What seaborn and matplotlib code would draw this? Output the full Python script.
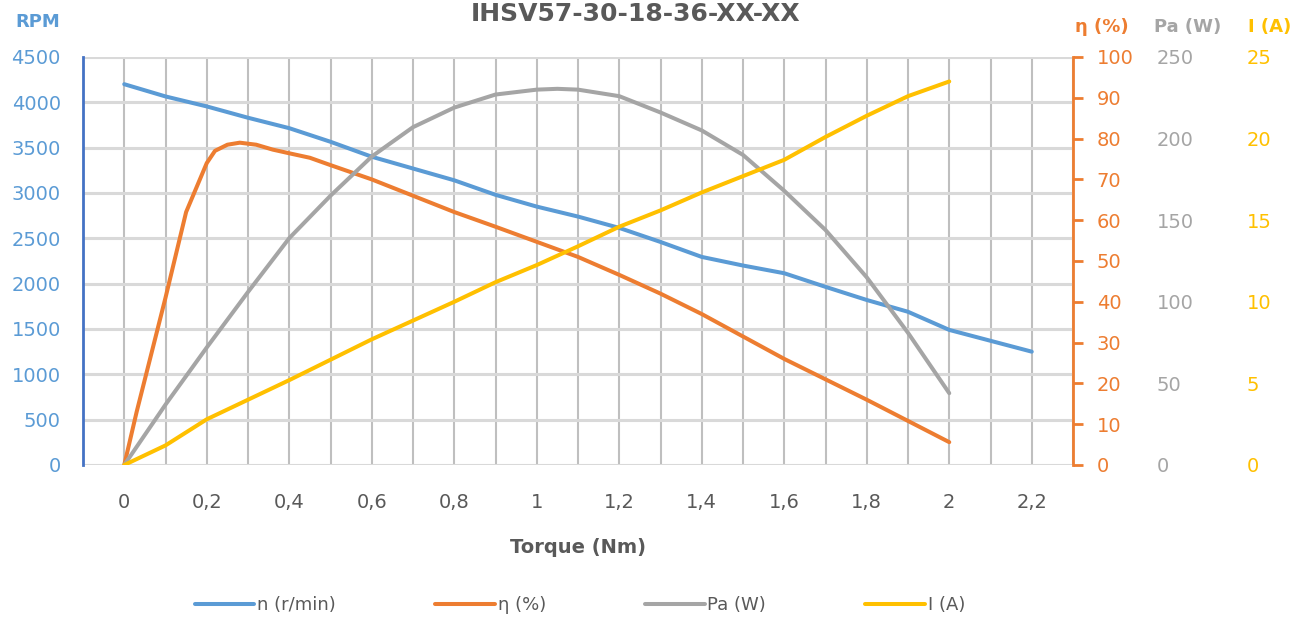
import numpy as np
import pandas as pd
import matplotlib
matplotlib.use('Agg')
import matplotlib.pyplot as plt
import seaborn as sns

# values
torque_n = [0, 0.1, 0.2, 0.3, 0.4, 0.5, 0.6, 0.7, 0.8, 0.9, 1.0, 1.1, 1.2, 1.3, 1.4, 1.5, 1.6, 1.7, 1.8, 1.9, 2.0, 2.1, 2.2]
speed = [4200, 4065, 3955, 3830, 3715, 3565, 3400, 3270, 3140, 2980, 2850, 2740, 2615, 2460, 2295, 2200, 2115, 1965, 1820, 1690, 1490, 1370, 1250]

torque_eta = [0, 0.03, 0.05, 0.1, 0.15, 0.2, 0.22, 0.25, 0.28, 0.32, 0.36, 0.4, 0.45, 0.5, 0.6, 0.7, 0.8, 0.9, 1.0, 1.1, 1.2, 1.3, 1.4, 1.6, 1.8, 2.0]
eta = [0, 13, 21, 41, 62, 74, 77, 78.5, 79, 78.5, 77.3, 76.4, 75.3, 73.5, 70, 66, 62, 58.4, 54.7, 51, 46.6, 42, 37, 26, 16, 5.6]

torque_pa = [0, 0.1, 0.2, 0.3, 0.4, 0.5, 0.6, 0.7, 0.8, 0.9, 1.0, 1.05, 1.1, 1.2, 1.3, 1.4, 1.5, 1.6, 1.7, 1.8, 1.9, 2.0]
power = [0, 37, 72, 106, 139, 165, 189, 207, 219, 227, 230, 230.5, 230, 226, 216, 205, 190, 168, 144, 115, 81, 44]

torque_i = [0, 0.1, 0.2, 0.4, 0.6, 0.8, 0.9, 1.0, 1.1, 1.2, 1.3, 1.4, 1.5, 1.6, 1.7, 1.8, 1.9, 2.0]
current = [0, 1.2, 2.8, 5.2, 7.7, 10.0, 11.2, 12.25, 13.4, 14.6, 15.6, 16.7, 17.7, 18.7, 20.1, 21.4, 22.6, 23.5]

x_labels = ['0', '0,2', '0,4', '0,6', '0,8', '1', '1,2', '1,4', '1,6', '1,8', '2', '2,2']

BLUE, ORANGE, GRAY, YELLOW = '#5B9BD5', '#ED7D31', '#A5A5A5', '#FFC000'
DARK = '#595959'
LW = 2.9

sns.set_style('white')
plt.rcParams['font.family'] = ['DejaVu Sans']

fig = plt.figure(figsize=(13.09, 6.19), dpi=100)
ax = fig.add_axes([83/1309, 1-465/619, (1073-83)/1309, (465-57)/619])

# grid: thin darker verticals every 0.1, wider light horizontals
for xv in np.arange(-0.1, 2.31, 0.1):
    ax.axvline(xv, color='#BFBFBF', lw=1.5, zorder=0)
for yv in range(0, 4501, 500):
    ax.axhline(yv, color='#D9D9D9', lw=2.2, zorder=0)

sns.lineplot(x=torque_n, y=speed, ax=ax, color=BLUE, lw=LW, label='n (r/min)', legend=False)
ax.set_xlim(-0.1, 2.3)
ax.set_ylim(0, 4500)
ax.set_xticks(np.arange(0, 2.21, 0.2))
ax.set_xticklabels(x_labels)
ax.set_yticks(range(0, 4501, 500))
ax.tick_params(axis='x', length=0, pad=20, labelsize=14, labelcolor=DARK)
ax.tick_params(axis='y', length=0, pad=16, labelsize=14, labelcolor=BLUE)
for s in ['top', 'right', 'bottom']:
    ax.spines[s].set_visible(False)
ax.spines['left'].set_color('#4472C4')
ax.spines['left'].set_linewidth(2)
ax.set_xlabel('Torque (Nm)', fontsize=14, fontweight='bold', color=DARK, labelpad=19)
ax.set_ylabel('')

# efficiency axis
ax2 = ax.twinx()
sns.lineplot(x=torque_eta, y=eta, ax=ax2, color=ORANGE, lw=LW, label='η (%)', legend=False)
ax2.set_ylim(0, 100)
ax2.set_yticks(range(0, 101, 10))
for s in ['top', 'left', 'bottom']:
    ax2.spines[s].set_visible(False)
ax2.spines['right'].set_color(ORANGE)
ax2.spines['right'].set_linewidth(2)
ax2.tick_params(axis='y', direction='out', length=7, width=2, color=ORANGE,
                labelcolor=ORANGE, labelsize=14, pad=10)
ax2.set_ylabel('')

# power axis
ax3 = ax.twinx()
sns.lineplot(x=torque_pa, y=power, ax=ax3, color=GRAY, lw=LW, label='Pa (W)', legend=False)
ax3.set_ylim(0, 250)
ax3.set_yticks(range(0, 251, 50))
ax3.spines['right'].set_position(('axes', (1157-83)/990))
for s in ax3.spines.values():
    s.set_visible(False)
ax3.tick_params(axis='y', length=0, pad=0, labelcolor=GRAY, labelsize=14)
ax3.set_ylabel('')

# current axis
ax4 = ax.twinx()
sns.lineplot(x=torque_i, y=current, ax=ax4, color=YELLOW, lw=LW, label='I (A)', legend=False)
ax4.set_ylim(0, 25)
ax4.set_yticks(range(0, 26, 5))
ax4.spines['right'].set_position(('axes', (1247-83)/990))
for s in ax4.spines.values():
    s.set_visible(False)
ax4.tick_params(axis='y', length=0, pad=0, labelcolor=YELLOW, labelsize=14)
ax4.set_ylabel('')

# titles
fig.text(636/1309, 1-21/619, 'IHSV57-30-18-36-XX-XX', ha='center', va='baseline',
         fontsize=18, fontweight='bold', color=DARK)
fig.text(38/1309, 1-22/619, 'RPM', ha='center', va='center', fontsize=13, fontweight='bold', color=BLUE)
fig.text(1102/1309, 1-27/619, 'η (%)', ha='center', va='center', fontsize=13, fontweight='bold', color=ORANGE)
fig.text(1188/1309, 1-27/619, 'Pa (W)', ha='center', va='center', fontsize=13, fontweight='bold', color=GRAY)
fig.text(1270/1309, 1-27/619, 'I (A)', ha='center', va='center', fontsize=13, fontweight='bold', color=YELLOW)

handles = []
labels = []
for a in [ax, ax2, ax3, ax4]:
    h, l = a.get_legend_handles_labels()
    handles += h
    labels += l
fig.legend(handles, labels, loc='center', bbox_to_anchor=(580/1309, 1-605/619), ncol=4,
           frameon=False, fontsize=13, handlelength=3.3, handletextpad=0.15,
           columnspacing=5.5, labelcolor=DARK)

fig.savefig('out.png', dpi=100)
